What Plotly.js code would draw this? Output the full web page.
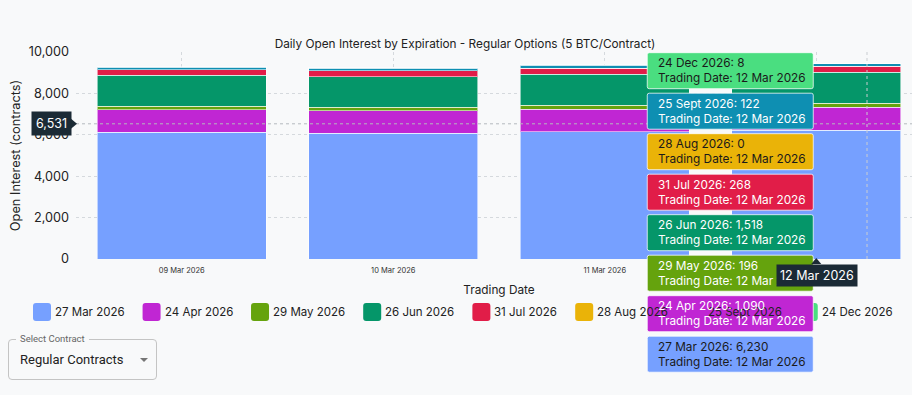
<!DOCTYPE html>
<html>
<head>
<meta charset="utf-8">
<script src="https://cdn.plot.ly/plotly-3.0.1.min.js"></script>
<style>
  html, body { margin:0; padding:0; width:912px; height:395px; overflow:hidden; background:#f8f9fa; }
  #chart { position:absolute; left:0; top:0; width:930px; height:395px; }
  #sel { position:absolute; left:8px; top:339px; width:147px; height:39px; border:1px solid #c4c4c4; border-radius:4px; box-sizing:content-box; font-family:Roboto, sans-serif; }
  #sel .lbl { position:absolute; left:7px; top:-7px; padding:0 4px; background:#f8f9fa; font-size:9.5px; color:#666; line-height:12px; }
  #sel .val { position:absolute; left:11px; top:0; line-height:39px; font-size:13px; color:#222; }
  #sel .arr { position:absolute; right:8px; top:18px; width:0; height:0; border-left:4.5px solid transparent; border-right:4.5px solid transparent; border-top:4.5px solid #757575; }
</style>
</head>
<body>
<div id="chart"></div>
<div id="sel"><span class="lbl">Select Contract</span><span class="val">Regular Contracts</span><span class="arr"></span></div>
<script>
// ---------- data ----------
const tradingDates = ['09 Mar 2026', '10 Mar 2026', '11 Mar 2026', '12 Mar 2026'];
const expiries = ['27 Mar 2026', '24 Apr 2026', '29 May 2026', '26 Jun 2026', '31 Jul 2026', '28 Aug 2026', '25 Sept 2026', '24 Dec 2026'];
const oiMar27 = [6120, 6070, 6150, 6230];
const oiApr24 = [1095, 1095, 1095, 1090];
const oiMay29 = [165, 160, 190, 196];
const oiJun26 = [1500, 1485, 1500, 1518];
const oiJul31 = [265, 285, 290, 268];
const oiAug28 = [0, 0, 0, 0];
const oiSep25 = [125, 130, 140, 122];
const oiDec24 = [8, 8, 8, 8];
const yTicks = [0, 2000, 4000, 6000, 8000, 10000];
const cursorValue = 6531;
const hoverDateIndex = 3;

const seriesValues = [oiMar27, oiApr24, oiMay29, oiJun26, oiJul31, oiAug28, oiSep25, oiDec24];
const colors = ['#76a0ff', '#c026d3', '#65a30d', '#059669', '#e11d48', '#eab308', '#0e8fb2', '#4ade80'];
const darkText = [true, false, false, false, false, true, false, true];

// ---------- geometry ----------
const W = 930, H = 395;
const M = {l: 76, r: 8, t: 52, b: 136};
const PW = W - M.l - M.r, PH = H - M.t - M.b;
const XR = [-0.5, 3.5];
const px2x = p => (p - M.l) / PW;
const px2y = p => (M.t + PH - p) / PH;
const catPaper = i => (i - XR[0]) / (XR[1] - XR[0]);
const FONT = 'Inter, "Noto Sans", sans-serif';
const FS = 11.8;
const LFS = 11.5;

function roundRect(cx, cy, w, h, r, fill, line) {
  const a = w / 2, b = h / 2;
  const p = `M${-a + r},${-b} L${a - r},${-b} Q${a},${-b} ${a},${-b + r} L${a},${b - r} Q${a},${b} ${a - r},${b} L${-a + r},${b} Q${-a},${b} ${-a},${b - r} L${-a},${-b + r} Q${-a},${-b} ${-a + r},${-b} Z`;
  return {type: 'path', xref: 'paper', yref: 'paper', xsizemode: 'pixel', ysizemode: 'pixel',
    xanchor: cx, yanchor: cy, path: p, fillcolor: fill, line: line || {width: 0}, layer: 'above'};
}

const traces = expiries.map((name, k) => ({
  type: 'bar', name: name, x: tradingDates, y: seriesValues[k],
  marker: {color: colors[k], line: {color: 'rgba(255,255,255,0.55)', width: 1}},
  showlegend: false, hoverinfo: 'skip'
}));

const shapes = [];
const annotations = [];

// spike lines at cursor
shapes.push({type: 'line', xref: 'paper', yref: 'y', x0: 0, x1: 1, y0: cursorValue, y1: cursorValue,
  line: {color: '#b4b9be', width: 1, dash: 'dot'}, layer: 'above'});
shapes.push({type: 'line', xref: 'paper', yref: 'paper', x0: catPaper(hoverDateIndex + 0.24), x1: catPaper(hoverDateIndex + 0.24), y0: 0, y1: 1,
  line: {color: '#c9cdd1', width: 1, dash: 'dot'}, layer: 'above'});

// custom legend
const cv = document.createElement('canvas').getContext('2d');
cv.font = LFS + 'px ' + FONT;
let lx = 33;
const legY = px2y(312);
expiries.forEach((name, k) => {
  shapes.push(roundRect(px2x(lx + 9), legY, 18, 18, 3, colors[k]));
  annotations.push({xref: 'paper', yref: 'paper', x: px2x(lx + 20), y: legY, xanchor: 'left', yanchor: 'middle',
    text: name, showarrow: false, font: {family: FONT, size: LFS, color: '#222'}});
  lx += 21 + cv.measureText(name).width + 19;
});

// y-axis cursor label
annotations.push({xref: 'paper', yref: 'y', x: px2x(72), y: cursorValue, xanchor: 'right', yanchor: 'middle',
  text: cursorValue.toLocaleString('en-US'), showarrow: false, bgcolor: '#1b2a35', borderpad: 4,
  font: {family: FONT, size: 12.5, color: '#ffffff'}});
shapes.push({type: 'path', xref: 'paper', yref: 'y', xsizemode: 'pixel', ysizemode: 'pixel',
  xanchor: px2x(71), yanchor: cursorValue, path: 'M0,-5 L6,0 L0,5 Z', fillcolor: '#1b2a35', line: {width: 0}, layer: 'above'});

// hover labels for the hovered trading date
const cx = catPaper(hoverDateIndex);
const hoverTop = 52.7, hoverStep = 40.5, hoverH = 36;
for (let j = 0; j < expiries.length; j++) {
  const k = expiries.length - 1 - j;
  const top = hoverTop + j * hoverStep;
  const cyPaper = px2y(top + hoverH / 2);
  shapes.push({type: 'path', xref: 'paper', yref: 'paper', xsizemode: 'pixel', ysizemode: 'pixel',
    xanchor: cx, yanchor: cyPaper,
    path: 'M-167,-18 L-5,-18 Q-3,-18 -3,-16 L-3,16 Q-3,18 -5,18 L-167,18 Q-169,18 -169,16 L-169,-16 Q-169,-18 -167,-18 Z',
    fillcolor: colors[k], line: {color: 'rgba(255,255,255,0.75)', width: 1}, layer: 'above'});
}
for (let j = 0; j < expiries.length; j++) {
  const k = expiries.length - 1 - j;
  const top = hoverTop + j * hoverStep;
  const cyPaper = px2y(top + hoverH / 2);
  annotations.push({xref: 'paper', yref: 'paper', x: cx, xshift: -160, y: cyPaper, xanchor: 'left', yanchor: 'middle',
    align: 'left', showarrow: false,
    text: expiries[k] + ': ' + seriesValues[k][hoverDateIndex].toLocaleString('en-US') + '<br>Trading Date: ' + tradingDates[hoverDateIndex],
    font: {family: FONT, size: FS, color: darkText[k] ? '#1a1a1a' : '#ffffff'}});
}

// x-axis common hover label
annotations.push({xref: 'paper', yref: 'paper', x: cx, xshift: 1, y: px2y(263.5), xanchor: 'center', yanchor: 'top',
  text: tradingDates[hoverDateIndex], showarrow: false, bgcolor: '#1b2a35', borderpad: 3,
  font: {family: FONT, size: 12.5, color: '#ffffff'}});
shapes.push({type: 'path', xref: 'paper', yref: 'paper', xsizemode: 'pixel', ysizemode: 'pixel',
  xanchor: cx, yanchor: px2y(258), path: 'M0,0 L-5,-6 L5,-6 Z', fillcolor: '#1b2a35', line: {width: 0}, layer: 'above'});

const layout = {
  width: W, height: H,
  margin: M,
  paper_bgcolor: '#f8f9fa', plot_bgcolor: '#f8f9fa',
  barmode: 'stack', bargap: 0.2,
  showlegend: false,
  font: {family: FONT, color: '#222'},
  title: {text: 'Daily Open Interest by Expiration - Regular Options (5 BTC/Contract)',
    x: 0.5, xref: 'container', y: 1 - 44 / H, yref: 'container', yanchor: 'middle', xanchor: 'center',
    font: {family: FONT, size: FS, color: '#222'}},
  xaxis: {type: 'category', range: XR, showgrid: true, gridcolor: '#d5d9dd', griddash: 'dot',
    zeroline: false, showline: false, ticks: '', tickfont: {size: 7.5, color: '#333'}, ticklabelstandoff: 5,
    title: {text: 'Trading Date', font: {size: 11.8, color: '#222'}, standoff: 12}},
  yaxis: {range: [0, 10000], tickvals: yTicks, tickformat: ',d', showgrid: true, gridcolor: '#d5d9dd', griddash: 'dot',
    zeroline: false, showline: false, ticks: '', tickfont: {size: 12.7, color: '#222'}, ticklabelstandoff: 6,
    title: {text: 'Open Interest (contracts)', font: {size: 12.8, color: '#222'}, standoff: 5}},
  shapes: shapes,
  annotations: annotations
};

Plotly.newPlot('chart', traces, layout, {displayModeBar: false, staticPlot: true});
</script>
</body>
</html>
